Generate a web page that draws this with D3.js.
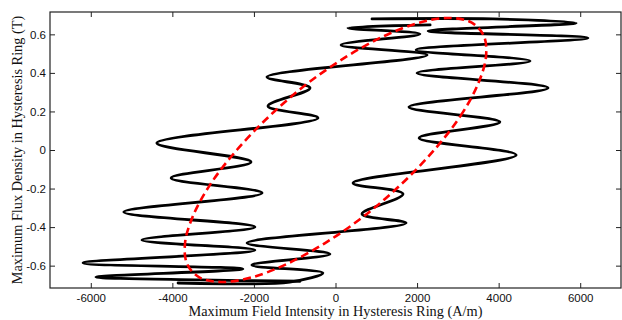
<!doctype html>
<html lang="en">
  <head>
    <meta charset="utf-8">
    <script src="https://cdn.jsdelivr.net/npm/d3@7/dist/d3.min.js"></script>
    <style>
      body {margin:0; background:white}
      svg {display:block}
      .tick text {font-family: "Liberation Sans", Arial, sans-serif; font-size:11.5px; fill:#111}
      .tick line {stroke:#222}
      .title {font-family: "Liberation Serif", "Times New Roman", serif; font-size:14.3px; fill:#111}
    </style>
    <title>Hysteresis ring</title>
  </head>
  <body>
    <script>
      // tick values and labels
      const xTicks = [-6000, -4000, -2000, 0, 2000, 4000, 6000];
      const xTickLabels = ["-6000", "-4000", "-2000", "0", "2000", "4000", "6000"];
      const yTicks = [-0.6, -0.4, -0.2, 0, 0.2, 0.4, 0.6];
      const yTickLabels = ["-0.6", "-0.4", "-0.2", "0", "0.2", "0.4", "0.6"];

      // measured loop, rising side [H (A/m), B (T)]
      const risingBranch = [
        [-3860, -0.690], [-1120, -0.685], [-310, -0.638], [-2050, -0.597],
        [-135, -0.540], [-2170, -0.482], [1730, -0.379], [650, -0.332],
        [1655, -0.228], [430, -0.171], [4430, -0.026], [2050, 0.062],
        [4030, 0.145], [1800, 0.223], [5210, 0.322], [2000, 0.399],
        [4770, 0.462], [1975, 0.519], [6190, 0.581], [2270, 0.617],
        [5900, 0.659], [3860, 0.680], [895, 0.680]
      ];

      // measured loop, falling side
      const fallingBranch = [
        [2320, 0.649], [305, 0.633], [2070, 0.602], [135, 0.545],
        [2245, 0.493], [-1680, 0.379], [-625, 0.322], [-1655, 0.228],
        [-430, 0.166], [-4380, 0.036], [-2070, -0.062], [-4030, -0.145],
        [-1800, -0.223], [-5190, -0.322], [-1975, -0.399], [-4745, -0.467],
        [-1975, -0.519], [-6190, -0.586], [-2270, -0.617], [-5875, -0.659],
        [-3320, -0.674], [-870, -0.681]
      ];

      // red dashed loop (closed)
      const ellipseLoop = [
        [2420, 0], [3065, 0.177], [3495, 0.343], [3690, 0.484], [3635, 0.593],
        [3330, 0.662], [2800, 0.685], [2075, 0.662], [1210, 0.593], [265, 0.484],
        [-700, 0.343], [-1615, 0.177], [-2420, 0], [-3065, -0.177], [-3495, -0.343],
        [-3690, -0.484], [-3635, -0.593], [-3330, -0.662], [-2800, -0.685],
        [-2075, -0.662], [-1210, -0.593], [-265, -0.484], [700, -0.343], [1615, -0.177]
      ];

      let W = 622, H = 320;
      let margin = {top:12, left:50, right:1, bottom:32};
      let w = W - margin.left - margin.right;
      let h = H - margin.top - margin.bottom;

      let xScale = d3.scaleLinear().domain([-7000, 7000]).range([0, w]);
      let yScale = d3.scaleLinear().domain([-0.716, 0.716]).range([h, 0]);

      let svg = d3.select("body").append("svg")
        .attr("width", W)
        .attr("height", H);

      let canvas = svg.append("g")
        .attr("transform", "translate(" + margin.left + "," + margin.top + ")");

      // axes with inward ticks on all four sides
      let xAxis = d3.axisBottom(xScale).tickValues(xTicks)
        .tickFormat((d, i) => xTickLabels[i]).tickSizeInner(-5).tickSizeOuter(0).tickPadding(6);
      let yAxis = d3.axisLeft(yScale).tickValues(yTicks)
        .tickFormat((d, i) => yTickLabels[i]).tickSizeInner(-5).tickSizeOuter(0).tickPadding(4);
      let xTop = d3.axisTop(xScale).tickValues(xTicks).tickFormat("").tickSizeInner(-5).tickSizeOuter(0);
      let yRight = d3.axisRight(yScale).tickValues(yTicks).tickFormat("").tickSizeInner(-5).tickSizeOuter(0);

      canvas.append("g").attr("transform", "translate(0," + h + ")").call(xAxis);
      canvas.append("g").call(yAxis);
      canvas.append("g").call(xTop);
      canvas.append("g").attr("transform", "translate(" + w + ",0)").call(yRight);
      canvas.selectAll(".domain").remove();

      canvas.append("rect")
        .attr("width", w)
        .attr("height", h)
        .attr("fill", "none")
        .attr("stroke", "#222")
        .attr("stroke-width", 1.2);

      let line = d3.line()
        .x(d => xScale(d[0]))
        .y(d => yScale(d[1]))
        .curve(d3.curveCatmullRom.alpha(0.5));

      [risingBranch, fallingBranch].forEach(branch => {
        canvas.append("path")
          .datum(branch)
          .attr("d", line)
          .attr("fill", "none")
          .attr("stroke", "black")
          .attr("stroke-width", 2.8)
          .attr("stroke-linejoin", "round")
          .attr("stroke-linecap", "round");
      });

      let loopLine = d3.line()
        .x(d => xScale(d[0]))
        .y(d => yScale(d[1]))
        .curve(d3.curveCatmullRomClosed.alpha(0.5));

      canvas.append("path")
        .datum(ellipseLoop)
        .attr("d", loopLine)
        .attr("fill", "none")
        .attr("stroke", "red")
        .attr("stroke-width", 2.6)
        .attr("stroke-dasharray", "8,4.5");

      // axis titles
      svg.append("text")
        .attr("class", "title")
        .attr("x", margin.left + w / 2)
        .attr("y", 316)
        .attr("text-anchor", "middle")
        .text("Maximum Field Intensity in Hysteresis Ring (A/m)");

      svg.append("text")
        .attr("class", "title")
        .attr("transform", "translate(22," + (margin.top + h / 2) + ") rotate(-90)")
        .attr("text-anchor", "middle")
        .text("Maximum Flux Density in Hysteresis Ring (T)");
    </script>
  </body>
</html>
